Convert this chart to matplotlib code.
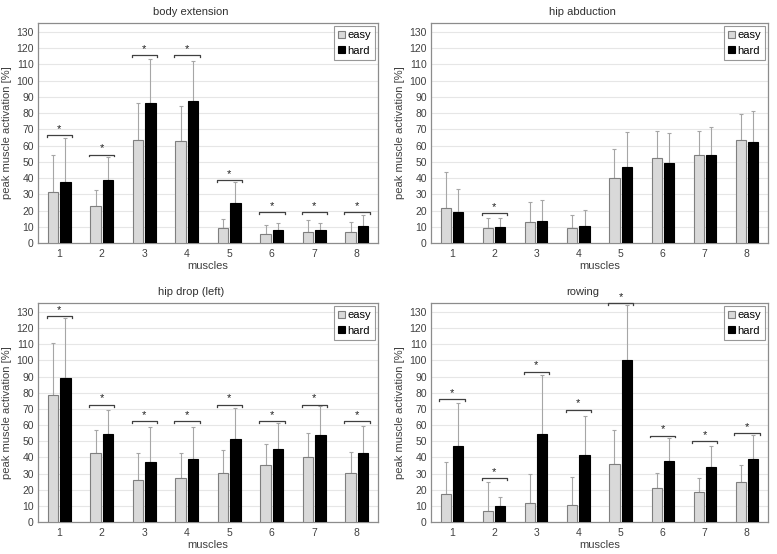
import numpy as np
import matplotlib.pyplot as plt

plt.rcParams['font.family'] = ['Liberation Sans', 'DejaVu Sans']

muscles = [1, 2, 3, 4, 5, 6, 7, 8]

titles = ['body extension', 'hip abduction', 'hip drop (left)', 'rowing']

# mean values and the top of the upper error bar for each panel
easy = [
    [31.5, 23, 63.5, 63, 9.5, 5.5, 6.5, 7],
    [21.5, 9.5, 13, 9, 40, 52.5, 54.5, 63.5],
    [78.8, 43, 26, 27, 30.5, 35, 40.3, 30.5],
    [17.5, 7, 12, 10.5, 36, 21, 18.8, 24.5],
]
easy_top = [
    [54.5, 32.5, 86.5, 84.5, 15, 11, 14, 13],
    [43.5, 15.5, 25.5, 17, 58, 69, 69, 79.5],
    [110.5, 57, 42.5, 42.5, 44.5, 48, 55, 43.5],
    [37, 24.5, 29.5, 28, 57, 30.5, 27.5, 35],
]
hard = [
    [37.5, 39, 86.5, 87.5, 24.5, 8, 8, 10.5],
    [19, 10, 13.5, 10.5, 47, 49, 54, 62.5],
    [89, 54.5, 37, 39, 51.3, 45.3, 53.7, 42.8],
    [47, 10, 54.5, 41.3, 100, 37.5, 34.3, 39],
]
hard_top = [
    [64.5, 53, 113.5, 112, 37.5, 12.5, 12.5, 17],
    [33, 15.5, 26.5, 20.5, 68.5, 68, 71.5, 81],
    [126.5, 69.5, 58.5, 59, 70.5, 61, 71.5, 59.5],
    [73.5, 15.5, 91, 65.5, 134, 52, 47, 54],
]
# significance brackets: height, or None where there is none
sig = [
    [66.5, 54.5, 115.5, 115.5, 38.5, 19, 19, 19],
    [None, 18.5, None, None, None, None, None, None],
    [127.5, 72.5, 62.5, 62.5, 72.5, 62.5, 72.5, 62.5],
    [76, 27, 93, 69.5, 135.5, 53.5, 50, 55],
]

fig = plt.figure(figsize=(7.77, 5.54), dpi=100)
rects = [
    [38 / 777, 1 - 243 / 554, 340 / 777, 220 / 554],
    [431 / 777, 1 - 243 / 554, 337 / 777, 220 / 554],
    [38 / 777, 1 - 522 / 554, 340 / 777, 219 / 554],
    [431 / 777, 1 - 522 / 554, 337 / 777, 219 / 554],
]

x = np.array(muscles)
w = 0.24
off = 0.145

for i in range(4):
    ax = fig.add_axes(rects[i])
    e = np.array(easy[i])
    h = np.array(hard[i])
    ax.bar(x - off, e, w, color='#d9d9d9', edgecolor='#7f7f7f', linewidth=0.8,
           label='easy', zorder=3)
    ax.bar(x + off, h, w, color='black', edgecolor='black', linewidth=0.8,
           label='hard', zorder=3)
    ax.errorbar(x - off, e, yerr=[np.zeros(8), np.array(easy_top[i]) - e],
                fmt='none', ecolor='#a6a6a6', elinewidth=0.8, capsize=1.5,
                capthick=0.8, zorder=2)
    ax.errorbar(x + off, h, yerr=[np.zeros(8), np.array(hard_top[i]) - h],
                fmt='none', ecolor='#a6a6a6', elinewidth=0.8, capsize=1.5,
                capthick=0.8, zorder=2)
    for k, s in enumerate(sig[i]):
        if s is None:
            continue
        xl = muscles[k] - 0.3
        xr = muscles[k] + 0.3
        ax.plot([xl, xl, xr, xr], [s - 1.2, s, s, s - 1.2], color='#404040',
                linewidth=0.9, clip_on=False, zorder=5)
        ax.text(muscles[k], s + 0.8, '*', ha='center', va='bottom',
                fontsize=8, color='#202020', clip_on=False)

    ax.set_xlim(0.5, 8.5)
    ax.set_ylim(0, 135.5)
    ax.set_yticks(range(0, 131, 10))
    ax.set_xticks(muscles)
    ax.tick_params(labelsize=7.5, length=0, pad=3, colors='#404040')
    ax.tick_params(axis='x', labelsize=7.5, pad=4)
    ax.grid(axis='y', color='#e6e6e6', linewidth=0.8, zorder=0)
    ax.set_axisbelow(True)
    for sp in ax.spines.values():
        sp.set_color('#8c8c8c')
        sp.set_linewidth(0.9)
    ax.set_xlabel('muscles', fontsize=8, color='#404040', labelpad=2)
    ax.set_ylabel('peak muscle activation [%]', fontsize=8, color='#404040',
                  labelpad=3)
    ax.set_title(titles[i], fontsize=8, color='#303030', pad=6, x=0.45)
    leg = ax.legend(loc='upper right', fontsize=8, frameon=True, fancybox=False,
                    edgecolor='#7f7f7f', handlelength=0.6, handleheight=0.6,
                    handletextpad=0.2, borderpad=0.35, labelspacing=0.5,
                    borderaxespad=0.3)
    leg.get_frame().set_linewidth(0.8)

fig.savefig('out.png', dpi=100)
